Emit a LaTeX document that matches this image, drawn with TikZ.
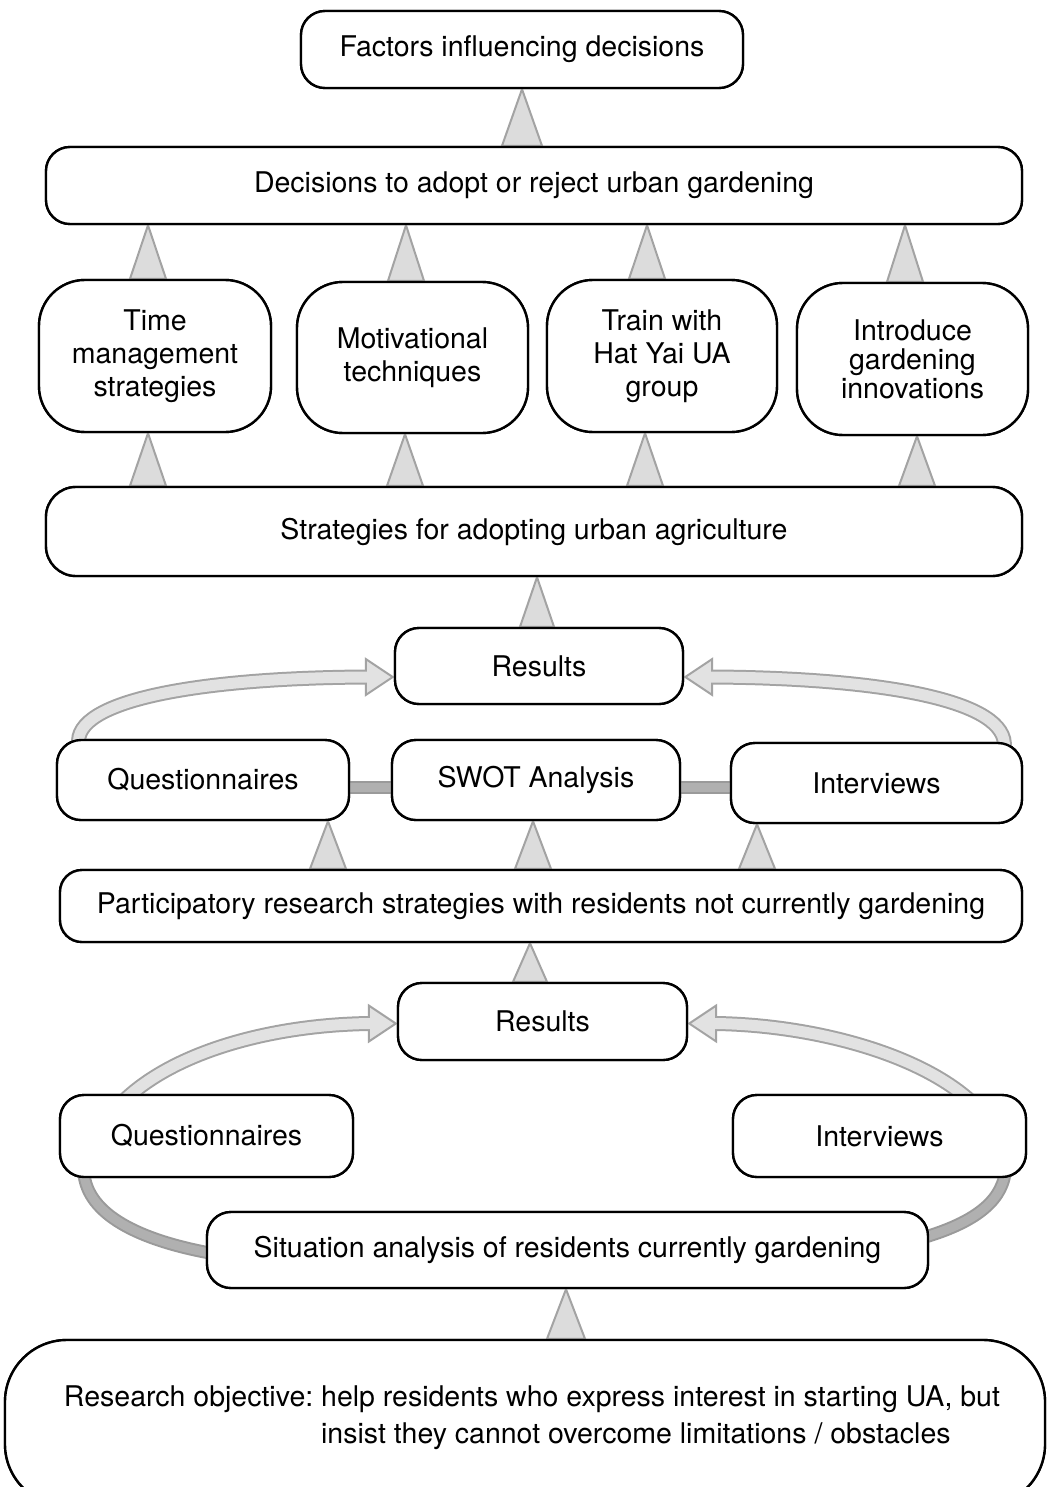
\documentclass[tikz,border=0pt]{standalone}
\usepackage{fontspec}
\setmainfont{TeX Gyre Heros}
\usetikzlibrary{calc}

\definecolor{trifill}{HTML}{DCDCDC}
\definecolor{triline}{HTML}{A3A3A3}
\definecolor{shaftfill}{HTML}{E2E2E2}
\definecolor{barfill}{HTML}{B0B0B0}
\definecolor{barline}{HTML}{9A9A9A}

\newcommand\boxfont{\fontsize{28.5}{33}\selectfont}

\tikzset{
  box/.style={draw=black, line width=2.4pt, fill=white, rounded corners=24pt,
    inner sep=0pt, align=center, font=\boxfont},
  tallbox/.style={box, rounded corners=46pt},
  tri/.style={fill=trifill, draw=triline, line width=2pt, line join=miter},
  barout/.style={draw=barline, line width=13pt},
  barin/.style={draw=barfill, line width=9pt},
  shaftout/.style={draw=triline, line width=15pt},
  shaftin/.style={draw=shaftfill, line width=11pt},
  head/.style={fill=shaftfill, draw=triline, line width=2pt, line join=miter},
}

% upward triangle from the top of #1 to the bottom of #2, centred at x=#3, half base #4
\newcommand\uptri[4]{%
  \path[tri] let \p1=(#1.north), \p2=(#2.south) in
    (#3pt,\y2) -- ({#3pt-#4pt},\y1) -- ({#3pt+#4pt},\y1) -- cycle;}

\begin{document}
\begin{tikzpicture}[x=1pt, y=-1pt]
\useasboundingbox (0,0) rectangle (1048,1487);

% ---------- node positions (texts are set further down) ----------
\path
  node[box, minimum width=442pt, minimum height=77pt] (fac) at (522,49.5) {}
  node[box, minimum width=976pt, minimum height=77pt] (dec) at (534,185.5) {}
  node[tallbox, minimum width=232pt, minimum height=152pt] (tms) at (155,356) {}
  node[tallbox, minimum width=231pt, minimum height=151pt] (mot) at (412.5,357.5) {}
  node[tallbox, minimum width=230pt, minimum height=152pt] (trn) at (662,356) {}
  node[tallbox, minimum width=231pt, minimum height=152pt] (inn) at (912.5,359) {}
  node[box, rounded corners=30pt, minimum width=976pt, minimum height=89pt] (str) at (534,531.5) {}
  node[box, minimum width=288pt, minimum height=76pt] (res1) at (539,666) {}
  node[box, minimum width=292pt, minimum height=80pt] (q1) at (203,780) {}
  node[box, minimum width=288pt, minimum height=80pt] (swot) at (536,780) {}
  node[box, minimum width=291pt, minimum height=80pt] (int1) at (876.5,783) {}
  node[box, rounded corners=22pt, minimum width=962pt, minimum height=72pt] (par) at (541,906) {}
  node[box, minimum width=289pt, minimum height=77pt] (res2) at (542.5,1021.5) {}
  node[box, minimum width=293pt, minimum height=82pt] (q2) at (206.5,1136) {}
  node[box, minimum width=293pt, minimum height=82pt] (int2) at (879.5,1136) {}
  node[box, minimum width=721pt, minimum height=76pt] (sit) at (567.5,1250) {}
  node[box, rounded corners=62pt, minimum width=1040pt, minimum height=166pt] (obj) at (525,1423) {};

% ---------- triangles ----------
\uptri{dec}{fac}{522}{20}
\uptri{tms}{dec}{148}{18}
\uptri{mot}{dec}{406}{18}
\uptri{trn}{dec}{647}{18}
\uptri{inn}{dec}{905}{18}
\uptri{str}{tms}{148}{18}
\uptri{str}{mot}{405}{18}
\uptri{str}{trn}{645}{18}
\uptri{str}{inn}{917}{18}
\uptri{res1}{str}{537}{17}
\uptri{par}{q1}{328}{18}
\uptri{par}{swot}{533}{18}
\uptri{par}{int1}{757}{18}
\uptri{res2}{par}{530}{17}
\uptri{obj}{sit}{566}{19}

% ---------- links between the three methods ----------
\draw[barout] ($(q1.east)+(-5,7)$) -- ($(swot.west)+(5,7)$);
\draw[barin]  ($(q1.east)+(-5,7)$) -- ($(swot.west)+(5,7)$);
\draw[barout] ($(swot.east)+(-5,7)$) -- ($(int1.west)+(5,4)$);
\draw[barin]  ($(swot.east)+(-5,7)$) -- ($(int1.west)+(5,4)$);

% ---------- lower links into the situation analysis ----------
\draw[barout] ($(q2.south west)+(25,-6)$) .. controls (87,1215) and (140,1240) .. ($(sit.west)+(4,3)$);
\draw[barin]  ($(q2.south west)+(25,-6)$) .. controls (87,1215) and (140,1240) .. ($(sit.west)+(4,3)$);
\draw[barout] ($(int2.south east)+(-22,-6)$) .. controls (1001,1205) and (968,1224) .. ($(sit.east)+(-4,-13)$);
\draw[barin]  ($(int2.south east)+(-22,-6)$) .. controls (1001,1205) and (968,1224) .. ($(sit.east)+(-4,-13)$);

% ---------- hollow arrows into the results ----------
% upper left
\coordinate (a1s) at ($(q1.north west)+(23,6)$);
\coordinate (a1t) at ($(res1.west)+(-1,11)$);
\coordinate (a1b) at ($(a1t)+(-27,0)$);
\draw[shaftout] (a1s) .. controls (72,700) and (200,678) .. (a1b);
\filldraw[head] (a1t) -- ($(a1b)+(0,-18)$) -- ($(a1b)+(0,18)$) -- cycle;
\draw[shaftin] (a1s) .. controls (72,700) and (200,678) .. (a1b) -- ++(3,0);
% upper right
\coordinate (a2s) at ($(int1.north east)+(-19,6)$);
\coordinate (a2t) at ($(res1.east)+(1,11)$);
\coordinate (a2b) at ($(a2t)+(27,0)$);
\draw[shaftout] (a2s) .. controls (1010,700) and (880,678) .. (a2b);
\filldraw[head] (a2t) -- ($(a2b)+(0,-18)$) -- ($(a2b)+(0,18)$) -- cycle;
\draw[shaftin] (a2s) .. controls (1010,700) and (880,678) .. (a2b) -- ++(-3,0);
% lower left
\coordinate (a3s) at ($(q2.north west)+(66,6)$);
\coordinate (a3t) at ($(res2.west)+(-1,2)$);
\coordinate (a3b) at ($(a3t)+(-27,0)$);
\draw[shaftout] (a3s) .. controls (175,1052) and (270,1025) .. (a3b);
\filldraw[head] (a3t) -- ($(a3b)+(0,-18)$) -- ($(a3b)+(0,18)$) -- cycle;
\draw[shaftin] (a3s) .. controls (175,1052) and (270,1025) .. (a3b) -- ++(3,0);
% lower right
\coordinate (a4s) at ($(int2.north east)+(-58,6)$);
\coordinate (a4t) at ($(res2.east)+(1,2)$);
\coordinate (a4b) at ($(a4t)+(27,0)$);
\draw[shaftout] (a4s) .. controls (915,1052) and (810,1025) .. (a4b);
\filldraw[head] (a4t) -- ($(a4b)+(0,-18)$) -- ($(a4b)+(0,18)$) -- cycle;
\draw[shaftin] (a4s) .. controls (915,1052) and (810,1025) .. (a4b) -- ++(-3,0);

% ---------- boxes ----------
\node[box, minimum width=442pt, minimum height=77pt] at (fac) {Factors influencing decisions};
\node[box, minimum width=976pt, minimum height=77pt] at (dec) {Decisions to adopt or reject urban gardening};
\node[tallbox, minimum width=232pt, minimum height=152pt] at (tms) {Time\\management\\strategies};
\node[tallbox, minimum width=231pt, minimum height=151pt] at (mot) {Motivational\\techniques};
\node[tallbox, minimum width=230pt, minimum height=152pt] at (trn) {Train with\\Hat Yai UA\\group};
\node[tallbox, minimum width=231pt, minimum height=152pt, font=\fontsize{28.5}{29}\selectfont] at (inn) {Introduce\\gardening\\innovations};
\node[box, rounded corners=30pt, minimum width=976pt, minimum height=89pt] at (str) {Strategies for adopting urban agriculture};
\node[box, minimum width=288pt, minimum height=76pt] at (res1) {Results};
\node[box, minimum width=292pt, minimum height=80pt] at (q1) {Questionnaires};
\node[box, minimum width=288pt, minimum height=80pt] at (swot) {SWOT Analysis};
\node[box, minimum width=291pt, minimum height=80pt] at (int1) {Interviews};
\node[box, rounded corners=22pt, minimum width=962pt, minimum height=72pt] at (par) {Participatory research strategies with residents not currently gardening};
\node[box, minimum width=289pt, minimum height=77pt] at (res2) {Results};
\node[box, minimum width=293pt, minimum height=82pt] at (q2) {Questionnaires};
\node[box, minimum width=293pt, minimum height=82pt] at (int2) {Interviews};
\node[box, minimum width=721pt, minimum height=76pt] at (sit) {Situation analysis of residents currently gardening};
\node[box, rounded corners=62pt, minimum width=1040pt, minimum height=166pt] at (obj) {};
\node[font=\fontsize{28.5}{37}\selectfont, inner sep=0pt] (objtext) at (532,1418)
  {\begin{tabular}{@{}l@{\ }l@{}}
    Research objective: & help residents who express interest in starting UA, but\\
     & insist they cannot overcome limitations / obstacles
   \end{tabular}};
\end{tikzpicture}
\end{document}
